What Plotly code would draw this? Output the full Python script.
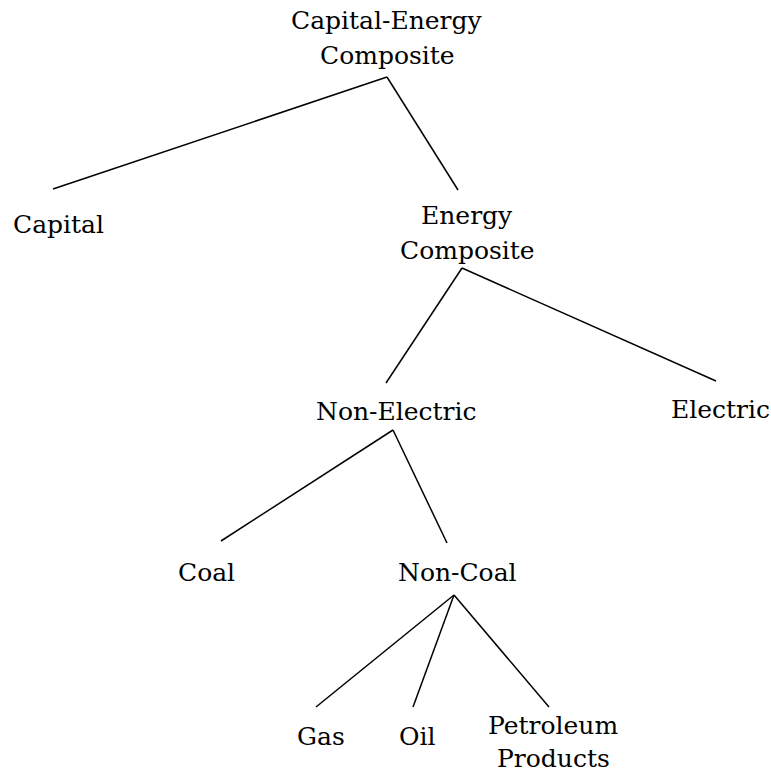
import plotly.graph_objects as go

# Tree structure (data)
node_names = ["root", "capital", "energy", "nonelec", "electric", "coal", "noncoal", "gas", "oil", "petro"]
node_lines = [["Capital-Energy", "Composite"], ["Capital"], ["Energy", "Composite"], ["Non-Electric"],
              ["Electric"], ["Coal"], ["Non-Coal"], ["Gas"], ["Oil"], ["Petroleum", "Products"]]
edge_parents = ["root", "root", "energy", "energy", "nonelec", "nonelec", "noncoal", "noncoal", "noncoal"]
edge_children = ["capital", "energy", "nonelec", "electric", "coal", "noncoal", "gas", "oil", "petro"]

# Layout (pixel positions in a 771x774 canvas): label center x, first-line center y, line gap
label_pos = {
    "root": (387, 20, 35), "capital": (58, 224, 35), "energy": (467, 215, 35), "nonelec": (396, 411, 35),
    "electric": (720, 409, 35), "coal": (206, 572, 35), "noncoal": (457, 572, 35), "gas": (321, 736, 35),
    "oil": (417, 736, 35), "petro": (553, 725, 33),
}
top_anchor = {  # where incoming edges end
    "capital": (53, 189), "energy": (458, 190), "nonelec": (386, 383), "electric": (716, 381),
    "coal": (221, 541), "noncoal": (447, 543), "gas": (316, 707), "oil": (413, 707), "petro": (549, 707),
}
bottom_anchor = {  # where outgoing edges start
    "root": (387, 77), "energy": (462, 268), "nonelec": (393, 430), "noncoal": (454, 595),
}

fig = go.Figure()
xs, ys = [], []
for p, c in zip(edge_parents, edge_children):
    x0, y0 = bottom_anchor[p]
    x1, y1 = top_anchor[c]
    xs += [x0, x1, None]
    ys += [y0, y1, None]
fig.add_trace(go.Scatter(x=xs, y=ys, mode="lines", line=dict(color="black", width=1.5),
                         hoverinfo="skip", showlegend=False))

for n, lines in zip(node_names, node_lines):
    x, y, gap = label_pos[n]
    for i, t in enumerate(lines):
        fig.add_annotation(x=x, y=y + i * gap, text=t, showarrow=False,
                           xanchor="center", yanchor="middle",
                           font=dict(family="DejaVu Serif", size=25, color="black"))

fig.update_layout(
    width=771, height=774, margin=dict(l=0, r=0, t=0, b=0),
    plot_bgcolor="white", paper_bgcolor="white",
    xaxis=dict(range=[0, 771], visible=False, fixedrange=True),
    yaxis=dict(range=[774, 0], visible=False, fixedrange=True),
)
fig.write_html("out.html", config={"displayModeBar": False},
               post_script="document.body.style.margin='0';document.body.style.padding='0';")
